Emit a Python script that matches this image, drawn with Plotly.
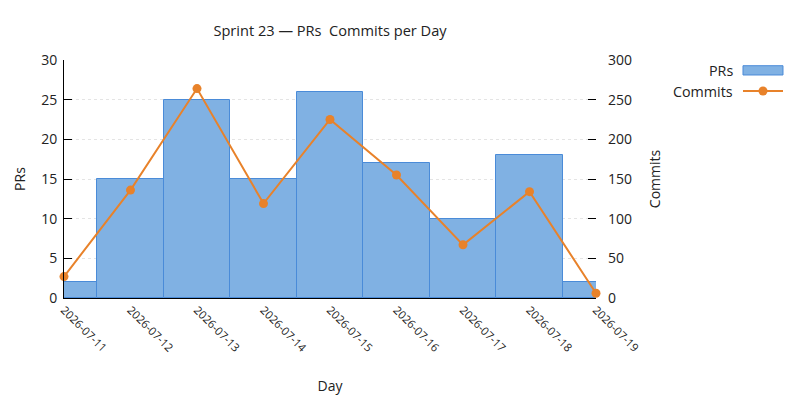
import plotly.graph_objects as go

days = ['2026-07-11', '2026-07-12', '2026-07-13', '2026-07-14', '2026-07-15',
        '2026-07-16', '2026-07-17', '2026-07-18', '2026-07-19']
prs = [2, 15, 25, 15, 26, 17, 10, 18, 2]
commits = [27, 136, 264, 119, 225, 155, 67, 134, 6]

title = 'Sprint 23 — PRs  Commits per Day'
font = 'Open Sans'
bar_fill = '#80B1E3'
bar_edge = '#4A8BD8'
orange = '#E8822A'

# page body adds an 8px offset, so the figure is drawn at 792x392
W, H = 792, 392

fig = go.Figure()

fig.add_trace(go.Bar(
    x=days, y=prs, name='PRs',
    width=86400000,
    marker=dict(color=bar_fill, line=dict(color=bar_edge, width=1)),
    showlegend=False,
))

fig.add_trace(go.Scatter(
    x=days, y=commits, name='Commits', yaxis='y2',
    mode='lines+markers',
    line=dict(color=orange, width=2),
    marker=dict(color=orange, size=9),
    cliponaxis=False,
    showlegend=False,
))

# hand-made legend (text on the left, symbol on the right)
legend_font = dict(family=font, size=14.3, color='#222')
fig.add_annotation(xref='paper', yref='paper', x=1.2613, y=0.9538,
                   text='PRs', showarrow=False, xanchor='right',
                   yanchor='middle', font=legend_font)
fig.add_annotation(xref='paper', yref='paper', x=1.2613, y=0.8697,
                   text='Commits', showarrow=False, xanchor='right',
                   yanchor='middle', font=legend_font)
fig.add_shape(type='rect', xref='paper', yref='paper',
              x0=1.2763, x1=1.3515, y0=0.937, y1=0.976,
              fillcolor=bar_fill, line=dict(color=bar_edge, width=1))
fig.add_shape(type='line', xref='paper', yref='paper',
              x0=1.2763, x1=1.3515, y0=0.8697, y1=0.8697,
              line=dict(color=orange, width=2))
fig.add_shape(type='circle', xref='paper', yref='paper',
              xsizemode='pixel', ysizemode='pixel',
              xanchor=1.3139, yanchor=0.8697,
              x0=-4.5, x1=4.5, y0=-4.5, y1=4.5,
              fillcolor=orange, line=dict(color=orange, width=0))

fig.update_layout(
    width=W,
    height=H,
    margin=dict(l=56, r=204, t=52, b=102),
    plot_bgcolor='white',
    paper_bgcolor='white',
    font=dict(family=font, size=14, color='#222'),
    title=dict(text=title, x=322 / W, xanchor='center',
               y=1 - 23 / H, yanchor='middle',
               font=dict(size=14.6, color='#222')),
    bargap=0,
    xaxis=dict(
        type='date',
        range=[days[0], days[-1]],
        tickvals=days,
        tickformat='%Y-%m-%d',
        tickangle=45,
        tickfont=dict(size=11.3),
        ticks='',
        showline=True, linecolor='black', linewidth=1,
        showgrid=False,
        automargin=False,
        title=dict(text='Day', standoff=27, font=dict(size=14)),
    ),
    yaxis=dict(
        range=[0, 30], dtick=5,
        ticks='inside', ticklen=8, tickcolor='black',
        ticklabelstandoff=3,
        showline=True, linecolor='black', linewidth=1,
        showgrid=True, gridcolor='#e4e4e4', griddash='dot',
        zeroline=False,
        automargin=False,
        title=dict(text='PRs', standoff=12, font=dict(size=14)),
    ),
    yaxis2=dict(
        overlaying='y', side='right',
        range=[0, 300], dtick=50,
        ticks='inside', ticklen=8, tickcolor='black',
        ticklabelstandoff=11,
        showline=False, showgrid=False, zeroline=False,
        automargin=False,
        title=dict(text='Commits', standoff=19, font=dict(size=14)),
    ),
)

fig.write_html('out.html')
